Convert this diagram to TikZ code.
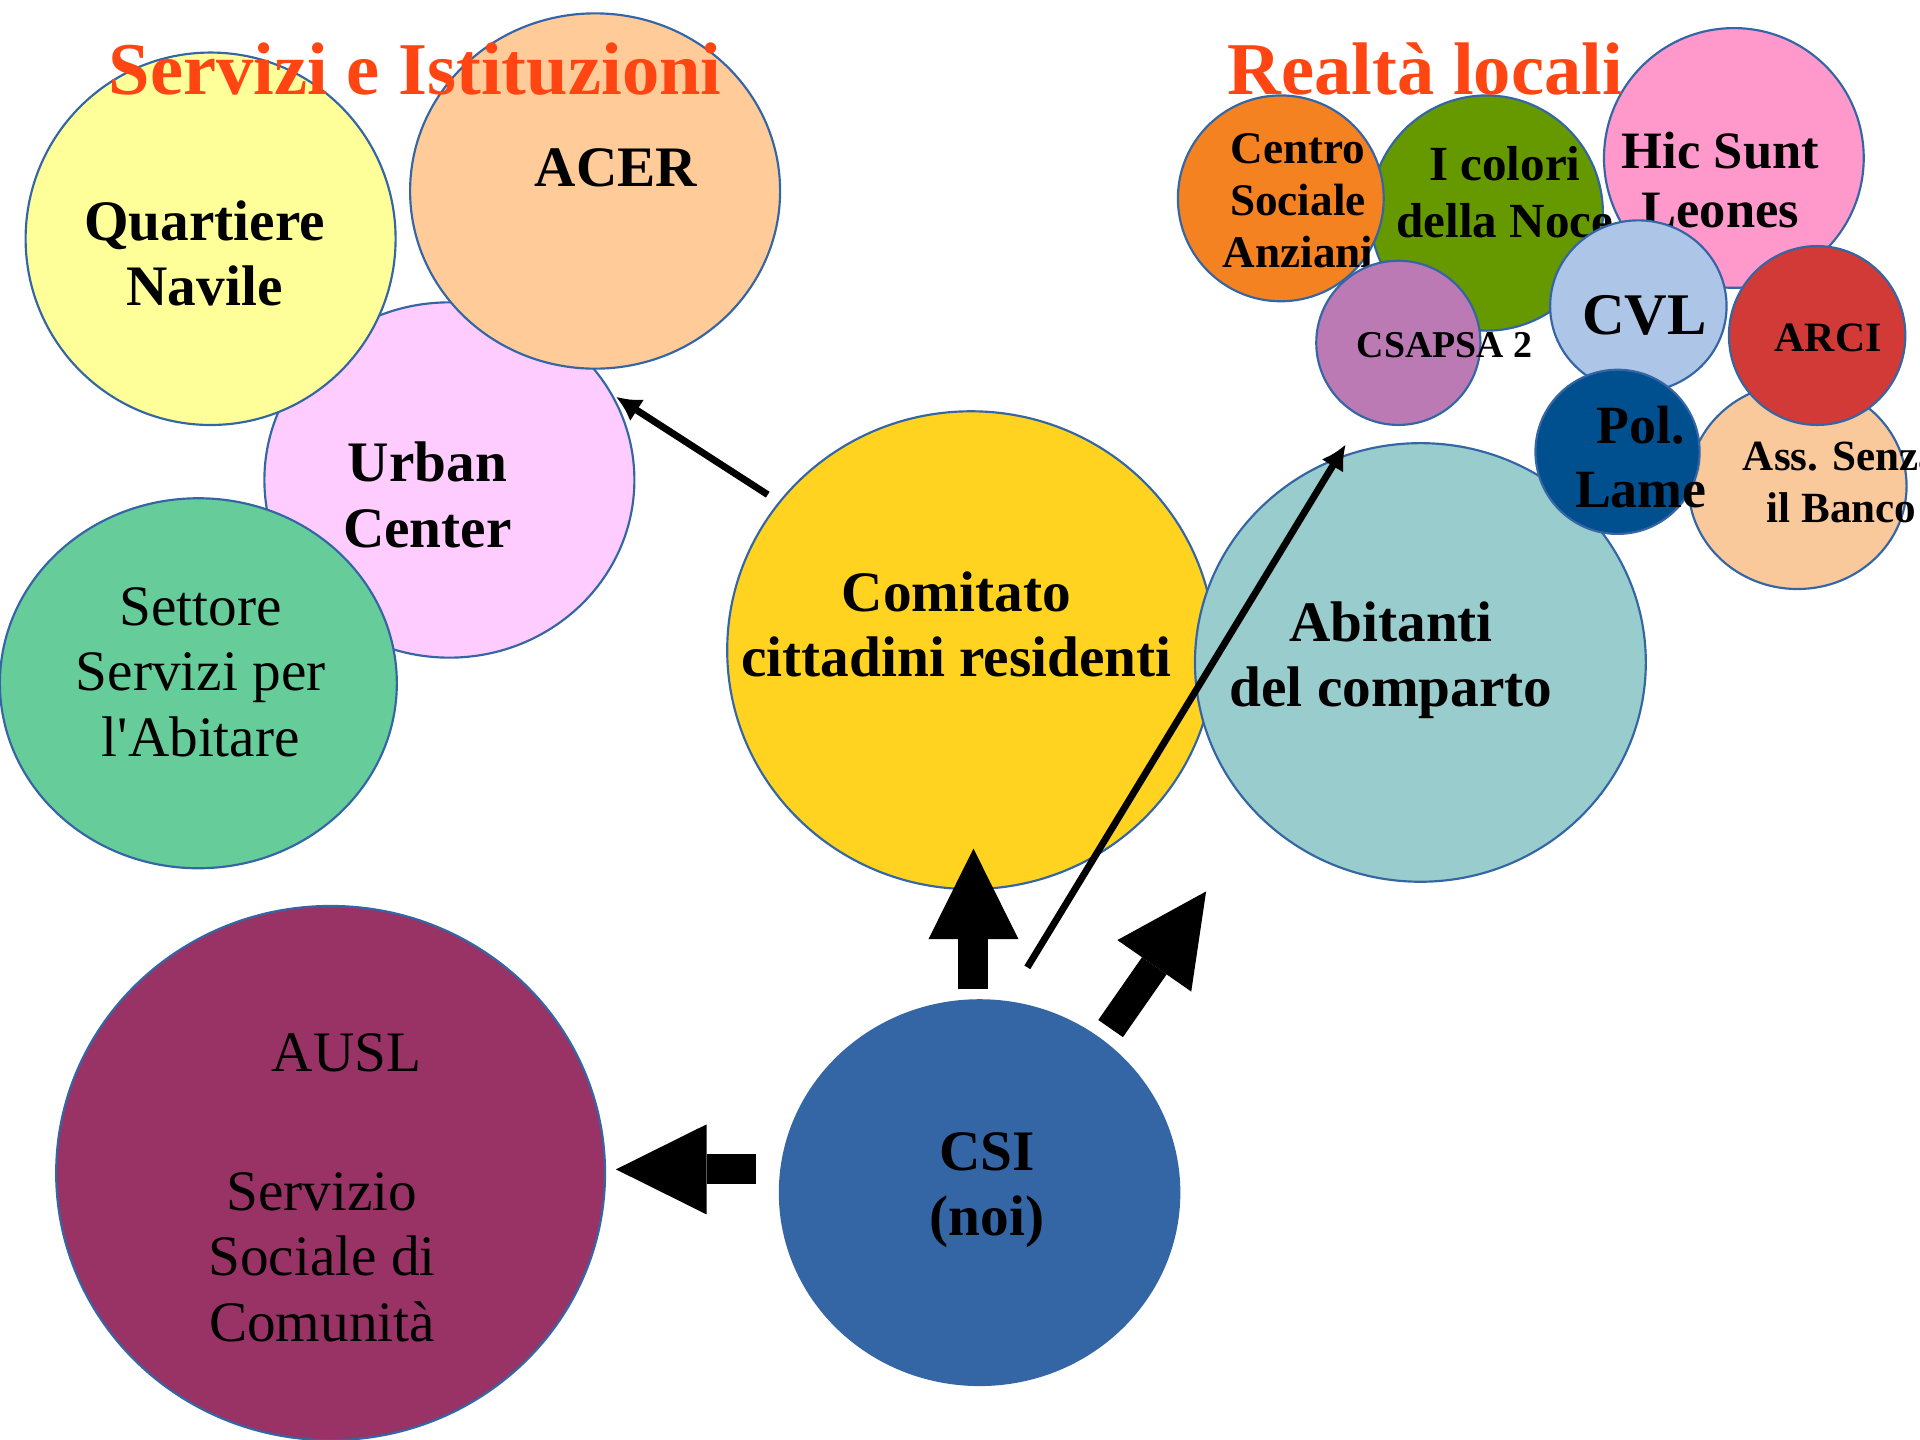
\documentclass[tikz,border=0pt]{standalone}
\usepackage{fontspec}
\setmainfont{Liberation Serif}
\usetikzlibrary{shapes,arrows.meta,positioning}

\definecolor{bordo}{HTML}{3465A4}
\definecolor{titolo}{HTML}{FF4512}
\definecolor{giallino}{HTML}{FFFF99}
\definecolor{pesca}{HTML}{FFCC99}
\definecolor{rosino}{HTML}{FFCCFF}
\definecolor{verdeacqua}{HTML}{66CC99}
\definecolor{oro}{HTML}{FFD320}
\definecolor{celeste}{HTML}{99CCCC}
\definecolor{prugna}{HTML}{993366}
\definecolor{blu}{HTML}{3465A4}
\definecolor{arancio}{HTML}{F58220}
\definecolor{oliva}{HTML}{669900}
\definecolor{malva}{HTML}{BC7AB5}
\definecolor{rosa}{HTML}{FF99CC}
\definecolor{azzurro}{HTML}{ADC5E7}
\definecolor{albicocca}{HTML}{F9C89B}
\definecolor{rosso}{HTML}{D13A36}
\definecolor{notte}{HTML}{004F8E}

\tikzstyle{bubble}    = [ellipse, draw=bordo, line width=0.5pt, inner sep=0pt]
\tikzstyle{boldtext}  = [font=\bfseries\fontsize{13.3pt}{15.2pt}\selectfont, align=center]
\tikzstyle{lighttext} = [font=\fontsize{13.3pt}{15.2pt}\selectfont, align=center]
\tikzstyle{heading}   = [font=\bfseries\fontsize{17.3pt}{20pt}\selectfont, text=titolo, anchor=base]
\tikzstyle{line}      = [draw, line width=1.6pt, -{Latex[length=5.8pt,width=6pt]}]
\tikzstyle{block}     = [draw, line width=0.245cm, -{Triangle[width=0.735cm,length=0.74cm,line width=0pt]}]

\begin{document}
\begin{tikzpicture}[x=0.01cm, y=-0.01cm]
	\useasboundingbox (0,0) rectangle (1568,1176);

		% Servizi e Istituzioni %

		\node [bubble, fill=rosino, minimum width=3.02cm, minimum height=2.90cm] (urban) at (367,392) {};
		\node [boldtext] (urban-t) at (349,404) {Urban\\Center};
		\node [bubble, fill=giallino, minimum width=3.02cm, minimum height=3.04cm] (quartiere) at (172,195) {};
		\node [boldtext] (quartiere-t) at (167,207) {Quartiere\\Navile};
		\node [bubble, fill=pesca, minimum width=3.02cm, minimum height=2.90cm] (acer) at (486,156) {};
		\node [boldtext] (acer-t) at (503,137) {ACER};
		\node [bubble, fill=verdeacqua, minimum width=3.24cm, minimum height=3.02cm] (settore) at (162,558) {};
		\node [lighttext] (settore-t) at (164,549) {Settore\\Servizi per\\l\textquotesingle Abitare};

		% Comitato e abitanti %

		\node [bubble, fill=oro, minimum width=3.98cm, minimum height=3.90cm] (comitato) at (793,531) {};
		\node [boldtext] (comitato-t) at (781,510) {Comitato\\cittadini residenti};
		\node [bubble, fill=celeste, minimum width=3.68cm, minimum height=3.58cm] (abitanti) at (1160,541) {};
		\node [boldtext] (abitanti-t) at (1136,539) {Abitanti\\del comparto};

		% AUSL e CSI %

		\node [bubble, fill=prugna, minimum width=4.48cm, minimum height=4.36cm] (ausl) at (270,958) {};
		\node [lighttext] (ausl-t) at (263,970) {\hspace*{0.4cm}AUSL\\[0.06cm]\\Servizio\\Sociale di\\Comunità};
		\node [bubble, draw=blu, fill=blu, minimum width=3.26cm, minimum height=3.14cm] (csi) at (800,974) {};
		\node [boldtext] (csi-t) at (806,972) {CSI\\(noi)};

		% Realta locali %

		\node [bubble, fill=oliva, minimum width=1.90cm, minimum height=1.92cm] (noce) at (1214,174) {};
		\node [bubble, fill=arancio, minimum width=1.68cm, minimum height=1.68cm] (centro) at (1046,162) {};
		\node [font=\bfseries\fontsize{10.5pt}{12.1pt}\selectfont, align=center] (centro-t) at (1060,164) {Centro\\Sociale\\Anziani};
		\node [font=\bfseries\fontsize{11.4pt}{13.1pt}\selectfont, align=center] (noce-t) at (1229,157) {I colori\\della Noce};
		\node [bubble, fill=malva, minimum width=1.34cm, minimum height=1.34cm] (csapsa) at (1142,280) {};
		\node [font=\bfseries\fontsize{8.8pt}{10pt}\selectfont] (csapsa-t) at (1180,282) {CSAPSA 2};
		\node [bubble, fill=rosa, minimum width=2.12cm, minimum height=2.12cm] (hic) at (1416,129) {};
		\node [font=\bfseries\fontsize{12.2pt}{13.9pt}\selectfont, align=center] (hic-t) at (1405,147) {Hic Sunt\\Leones};
		\node [bubble, fill=azzurro, minimum width=1.44cm, minimum height=1.40cm] (cvl) at (1338,250) {};
		\node [font=\bfseries\fontsize{13.7pt}{15pt}\selectfont] (cvl-t) at (1343,258) {CVL};
		\node [bubble, fill=albicocca, minimum width=1.78cm, minimum height=1.68cm] (ass) at (1468,397) {};
		\node [font=\bfseries\fontsize{10pt}{12pt}\selectfont, align=center] (ass-t) at (1504,394) {Ass. Senza\\il Banco};
		\node [bubble, fill=rosso, minimum width=1.44cm, minimum height=1.46cm] (arci) at (1484,274) {};
		\node [font=\bfseries\fontsize{9.7pt}{11pt}\selectfont] (arci-t) at (1493,276) {ARCI};
		\node [bubble, fill=notte, minimum width=1.34cm, minimum height=1.34cm] (pol) at (1321,369) {};
		\node [font=\bfseries\fontsize{12.5pt}{14.8pt}\selectfont, align=center] (pol-t) at (1340,373) {Pol.\\Lame};

		% Titles %

		\node [heading] (servizi) at (339,77) {Servizi e Istituzioni};
		\node [heading] (realta) at (1164,77) {Realtà locali};

		% Connection %

		\coordinate (c1) at (627,404);
		\coordinate (c2) at (503,324);
		\coordinate (c3) at (839,790);
		\coordinate (c4) at (1099,363);
		\coordinate (b1) at (795,808);
		\coordinate (b2) at (795,693);
		\coordinate (b3) at (907,840);
		\coordinate (b4) at (985,728);
		\coordinate (b5) at (617,955);
		\coordinate (b6) at (503,955);

		\path [line] (c1) -- (c2);
		\path [line] (c3) -- (c4);
		\path [block] (b1) -- (b2);
		\path [block] (b3) -- (b4);
		\path [block] (b5) -- (b6);
\end{tikzpicture}
\end{document}
